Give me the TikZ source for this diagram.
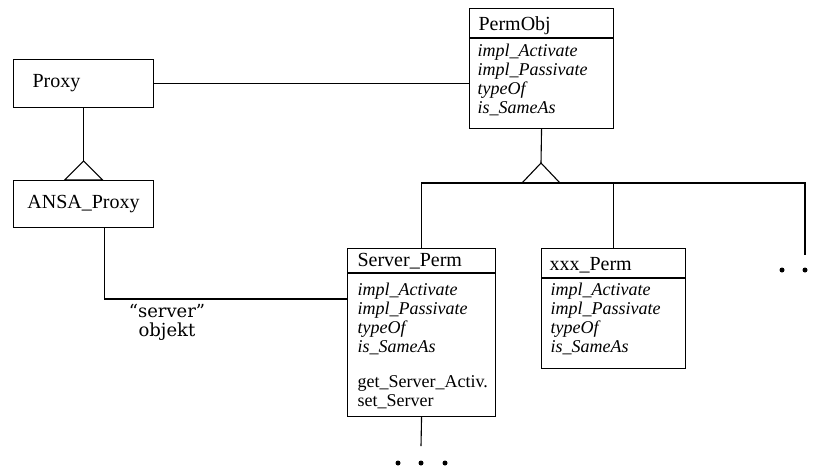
\documentclass[tikz,border=0pt]{standalone}
\usepackage{fontspec}
\setmainfont{Liberation Serif}
\newfontfamily\labelfont{DejaVu Serif}

\begin{document}
\begin{tikzpicture}[x=1pt, y=-1pt, line width=1.1pt,
  classbox/.style={draw, inner sep=0pt, anchor=north west},
  classname/.style={font=\fontsize{20}{22}\selectfont, inner sep=0pt, anchor=base west},
  methods/.style={font=\fontsize{18}{19}\selectfont, inner sep=0pt, anchor=base west},
  dot/.style={circle, fill, inner sep=0pt, minimum size=5pt}]
  \useasboundingbox (0,0) rectangle (827,467);

  % Proxy classes on the left
  \node[classbox, minimum width=140, minimum height=48, text width=102pt, inner xsep=19pt,
        align=left, font=\fontsize{20}{22}\selectfont] (proxy) at (13,59) {Proxy};
  \node[classbox, minimum width=140, minimum height=47,
        font=\fontsize{20}{22}\selectfont] (ansa) at (13,180) {ANSA\_Proxy};

  % PermObj
  \node[classbox, minimum width=144, minimum height=120] (permobj) at (469,8) {};
  \draw ([yshift=-30pt]permobj.north west) -- ([yshift=-30pt]permobj.north east);
  \node[classname] (permobjname) at (478,30) {PermObj};
  \node[methods] (permobjops) at (477,56) {\parbox[t]{130pt}{\itshape
    impl\_Activate\\impl\_Passivate\\typeOf\\is\_SameAs}};

  % Server_Perm
  \node[classbox, minimum width=148, minimum height=168] (serverperm) at (347,248) {};
  \draw ([yshift=-25pt]serverperm.north west) -- ([yshift=-25pt]serverperm.north east);
  \node[classname] (serverpermname) at (357,266) {Server\_Perm};
  \node[methods] (serverpermops) at (357,295) {\parbox[t]{135pt}{\itshape
    impl\_Activate\\impl\_Passivate\\typeOf\\is\_SameAs}};
  \node[methods] (serverpermown) at (357,387) {\parbox[t]{135pt}{%
    get\_Server\_Activ.\\set\_Server}};

  % xxx_Perm
  \node[classbox, minimum width=144, minimum height=120] (xxxperm) at (541,248) {};
  \draw ([yshift=-30pt]xxxperm.north west) -- ([yshift=-30pt]xxxperm.north east);
  \node[classname] (xxxpermname) at (549,270) {xxx\_Perm};
  \node[methods] (xxxpermops) at (550,295) {\parbox[t]{130pt}{\itshape
    impl\_Activate\\impl\_Passivate\\typeOf\\is\_SameAs}};

  % association Proxy -- PermObj
  \draw (proxy.east) -- (proxy.east -| permobj.west);

  % inheritance Proxy <- ANSA_Proxy
  \coordinate (proxytip) at ([yshift=19pt]ansa.north);
  \draw (proxy.south) -- (proxytip);
  \draw (proxytip) -- ([xshift=-19pt]ansa.north) -- ([xshift=19pt]ansa.north) -- cycle;

  % inheritance PermObj <- subclasses
  \coordinate (permtip) at (541,163);
  \coordinate (busright) at (805,183);
  \coordinate (moreend) at (805,255);
  \draw (permobj.south) -- (permtip);
  \draw (permtip) -- (522,183) -- (560,183) -- cycle;
  \draw (serverperm.north) |- (busright) -- (moreend);
  \draw (xxxperm.north) -- (xxxperm.north |- busright);

  % ANSA_Proxy -- Server_Perm
  \draw ([xshift=21pt]ansa.south) |- ([yshift=-51pt]serverperm.north west);
  \node[font=\labelfont\fontsize{18}{19}\selectfont, align=center] (serverlabel)
    at (167,322) {“server”\\objekt};

  % further subclasses
  \coordinate (servertail) at (421,446);
  \draw (serverperm.south) -- (servertail);
  \node[dot] (sdot1) at (398,463) {};
  \node[dot] (sdot2) at (421,463) {};
  \node[dot] (sdot3) at (445,463) {};
  \node[dot] (mdot1) at (782,270) {};
  \node[dot] (mdot2) at (805,270) {};
\end{tikzpicture}
\end{document}
